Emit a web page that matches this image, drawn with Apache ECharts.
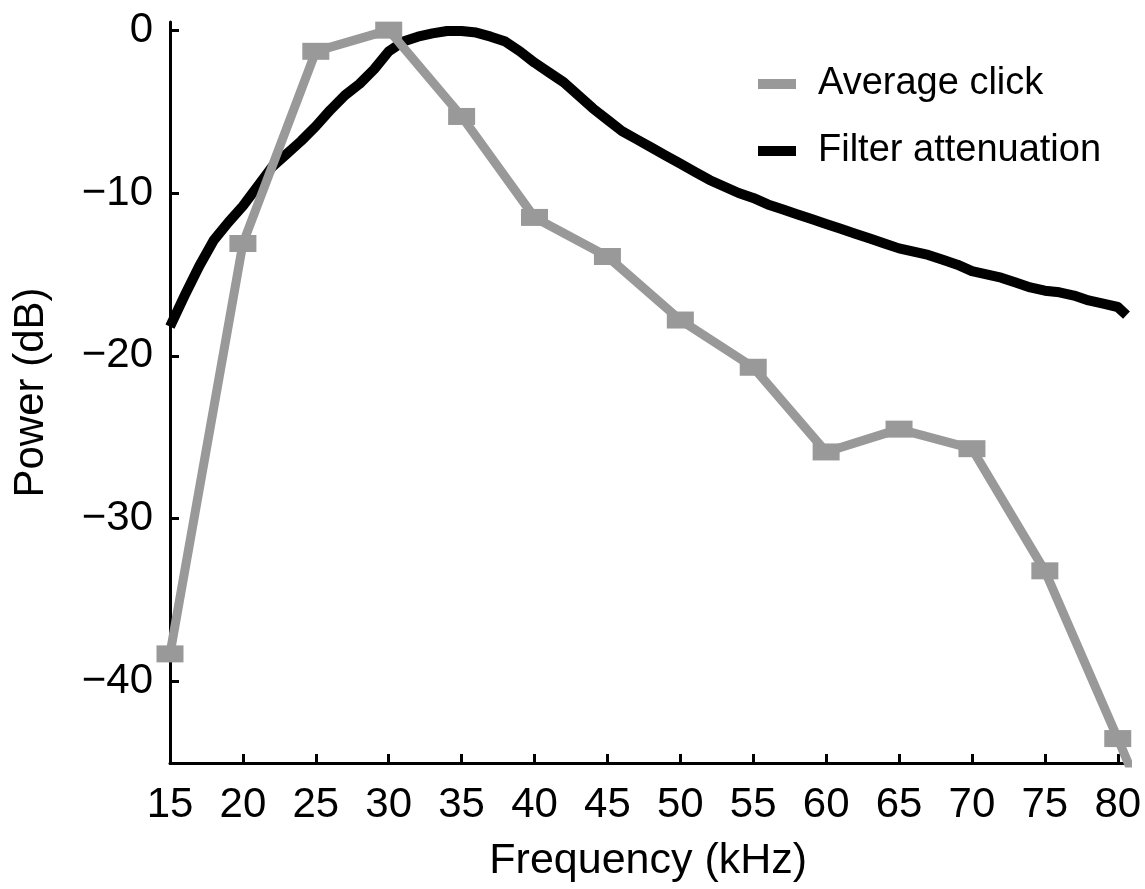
<!DOCTYPE html>
<html>
<head>
<meta charset="utf-8">
<script src="https://cdn.jsdelivr.net/npm/echarts@6/dist/echarts.min.js"></script>
<style>
html,body{margin:0;padding:0;background:#fff;}
#chart{width:1145px;height:889px;}
</style>
</head>
<body>
<div id="chart"></div>
<script>
// ---- data ----
const clickFreq = [15,20,25,30,35,40,45,50,55,60,65,70,75,80,81];
const avgClick = [-38.3,-13.1,-1.3,0,-5.3,-11.5,-13.9,-17.8,-20.7,-25.9,-24.5,-25.7,-33.2,-43.5,-45.6];
const filterFreq = [15,16,17,18,19,20,21,22,23,24,25,26,27,28,29,30,31,32,33,34,35,36,37,38,39,40,
  41,42,43,44,45,46,47,48,49,50,51,52,53,54,55,56,57,58,59,60,61,62,63,64,65,66,67,68,69,70,
  71,72,73,74,75,76,77,78,79,80,80.6];
const filterAtt = [-18.2,-16.3,-14.5,-12.9,-11.8,-10.8,-9.6,-8.4,-7.6,-6.8,-5.9,-4.9,-4.0,-3.3,-2.4,-1.3,
  -0.7,-0.4,-0.2,-0.05,-0.05,-0.15,-0.4,-0.7,-1.3,-2.0,
  -2.6,-3.2,-4.0,-4.8,-5.5,-6.2,-6.7,-7.2,-7.7,-8.2,-8.7,-9.2,-9.6,-10.0,-10.3,-10.7,-11.0,-11.3,-11.6,-11.9,
  -12.2,-12.5,-12.8,-13.1,-13.4,-13.6,-13.8,-14.1,-14.4,-14.8,-15.0,-15.2,-15.5,-15.8,-16.0,-16.1,-16.3,-16.6,-16.8,-17.0,-17.5];
const xTicks = [15,20,25,30,35,40,45,50,55,60,65,70,75,80];
const yTicks = [0,-10,-20,-30,-40];

const FONT = '"Liberation Sans", Arial, sans-serif';
const chart = echarts.init(document.getElementById('chart'), null, {renderer:'canvas'});
const axisLineStyle = {color:'#000', width:3};
chart.setOption({
  animation:false,
  backgroundColor:'#fff',
  grid:{left:170, right:18.5, top:22, bottom:126, containLabel:false},
  legend:{
    orient:'vertical', left:753, top:60, itemGap:29,
    itemWidth:38, itemHeight:10, icon:'rect',
    textStyle:{fontFamily:FONT, fontSize:38, color:'#000', padding:[0,0,0,17]},
    data:['Average click','Filter attenuation']
  },
  xAxis:{
    type:'value', min:15, max:80.6,
    name:'Frequency (kHz)', nameLocation:'middle', nameGap:77,
    nameTextStyle:{fontFamily:FONT, fontSize:43, color:'#000'},
    axisLine:{show:true, onZero:false, lineStyle:axisLineStyle},
    axisTick:{show:true, inside:true, length:9, lineStyle:{color:'#000', width:3}, customValues:xTicks},
    axisLabel:{fontFamily:FONT, fontSize:42, color:'#000', margin:21, customValues:xTicks},
    splitLine:{show:false}
  },
  yAxis:{
    type:'value', min:-45, max:0.5,
    name:'Power (dB)', nameLocation:'middle', nameGap:118, nameRotate:90,
    nameTextStyle:{fontFamily:FONT, fontSize:42, color:'#000'},
    axisLine:{show:true, onZero:false, lineStyle:axisLineStyle},
    axisTick:{show:true, inside:true, length:9, lineStyle:{color:'#000', width:3}, customValues:yTicks},
    axisLabel:{fontFamily:FONT, fontSize:42, color:'#000', margin:17, customValues:yTicks,
      formatter:v => (v < 0 ? '\u2212' + Math.abs(v) : String(v))},
    splitLine:{show:false}
  },
  series:[
    {
      name:'Filter attenuation', type:'line', z:2,
      data:filterFreq.map((f,i)=>[f, filterAtt[i]]),
      showSymbol:false, symbol:'none',
      lineStyle:{color:'#000', width:10, join:'round'},
      itemStyle:{color:'#000'},
      clip:true
    },
    {
      name:'Average click', type:'line', z:3,
      data:clickFreq.map((f,i)=>[f, avgClick[i]]),
      symbol:'rect', symbolSize:[27,17],
      lineStyle:{color:'#999999', width:9},
      itemStyle:{color:'#999999'},
      clip:true
    }
  ]
});
</script>
</body>
</html>
